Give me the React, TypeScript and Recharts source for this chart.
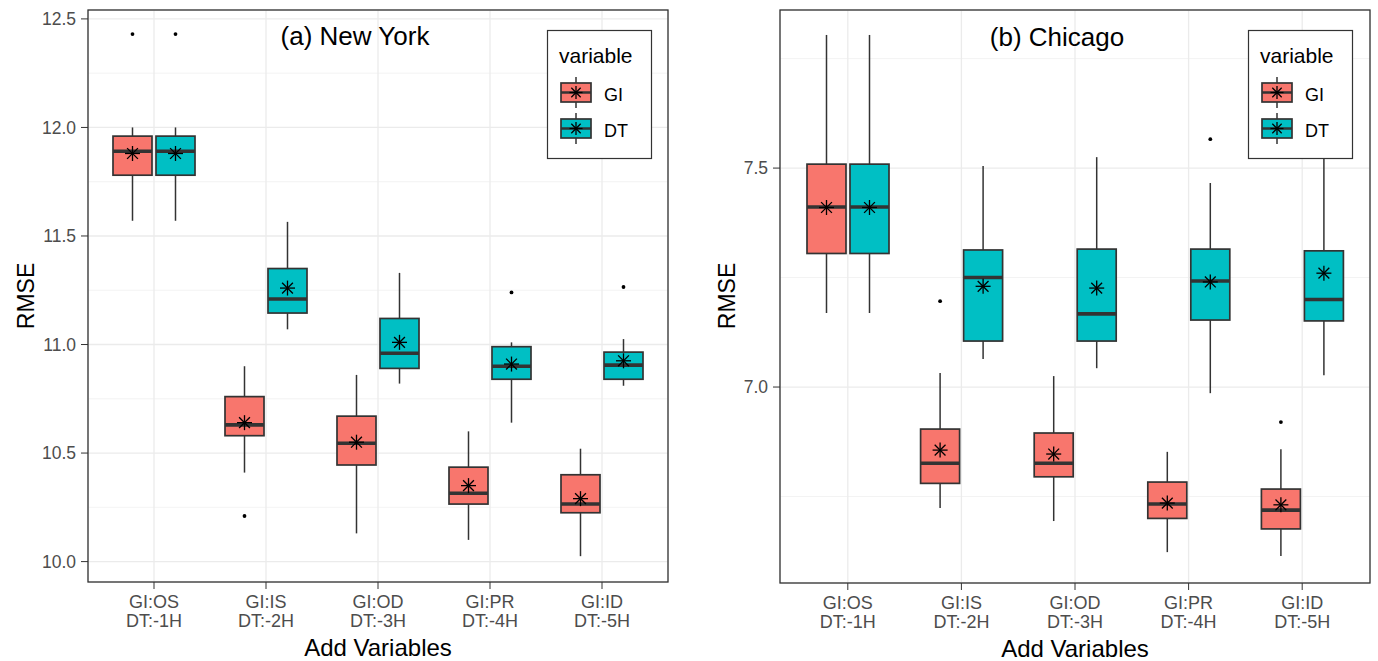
import React from 'react';
import { Bar, CartesianGrid, ComposedChart, XAxis, YAxis } from 'recharts';

const FONT = '"Liberation Sans", Arial, sans-serif';
const GI_COLOR = '#F8766D';
const DT_COLOR = '#00BFC4';
const INK = '#333333';

const giVars = ['GI:OS', 'GI:IS', 'GI:OD', 'GI:PR', 'GI:ID'];
const dtLags = ['DT:-1H', 'DT:-2H', 'DT:-3H', 'DT:-4H', 'DT:-5H'];

// each row: [lower whisker, Q1, median, Q3, upper whisker, mean]
const nyGI = [
  [11.57, 11.78, 11.89, 11.96, 12.0, 11.88],
  [10.41, 10.58, 10.63, 10.76, 10.9, 10.64],
  [10.13, 10.445, 10.545, 10.67, 10.86, 10.55],
  [10.1, 10.265, 10.315, 10.435, 10.6, 10.35],
  [10.025, 10.225, 10.265, 10.4, 10.52, 10.29],
];
const nyDT = [
  [11.57, 11.78, 11.89, 11.96, 12.0, 11.88],
  [11.07, 11.145, 11.21, 11.35, 11.565, 11.26],
  [10.82, 10.89, 10.96, 11.12, 11.33, 11.01],
  [10.64, 10.84, 10.9, 10.99, 11.01, 10.91],
  [10.81, 10.84, 10.905, 10.965, 11.025, 10.925],
];
const nyGIOut = [[12.43], [10.21], [], [], []];
const nyDTOut = [[12.43], [], [], [11.24], [11.265]];

const chGI = [
  [7.169, 7.305, 7.411, 7.509, 7.804, 7.41],
  [6.724, 6.78, 6.826, 6.904, 7.032, 6.856],
  [6.694, 6.795, 6.826, 6.895, 7.025, 6.847],
  [6.623, 6.7, 6.733, 6.783, 6.852, 6.735],
  [6.614, 6.676, 6.719, 6.767, 6.858, 6.731],
];
const chDT = [
  [7.169, 7.305, 7.411, 7.509, 7.804, 7.41],
  [7.064, 7.105, 7.25, 7.313, 7.505, 7.23],
  [7.043, 7.105, 7.167, 7.315, 7.525, 7.226],
  [6.986, 7.153, 7.242, 7.315, 7.466, 7.24],
  [7.027, 7.151, 7.2, 7.311, 7.6, 7.26],
];
const chGIOut = [[], [7.196], [], [], [6.92]];
const chDTOut = [[], [], [], [7.566], []];

const nyTicks = [10, 10.5, 11, 11.5, 12, 12.5];
const nyMinor = [10.25, 10.75, 11.25, 11.75, 12.25];
const chTicks = [7.0, 7.5];
const chMinor = [6.75, 7.25, 7.75];

const Star = ({ cx, cy, r }: { cx: number; cy: number; r: number }) => {
  const d = r * 0.72;
  return (
    <g stroke="#000" strokeWidth={1.3}>
      <line x1={cx} y1={cy - r} x2={cx} y2={cy + r} />
      <line x1={cx - r} y1={cy} x2={cx + r} y2={cy} />
      <line x1={cx - d} y1={cy - d} x2={cx + d} y2={cy + d} />
      <line x1={cx - d} y1={cy + d} x2={cx + d} y2={cy - d} />
    </g>
  );
};

const boxShape = (stats: number[][], outs: number[][], fill: string) => (p: any) => {
  const s = stats[p.index];
  const [lo, q1, med, q3, hi, mean] = s;
  const top = Math.min(p.y, p.y + p.height);
  const bot = Math.max(p.y, p.y + p.height);
  const py = (v: number) => bot - ((v - lo) / (hi - lo)) * (bot - top);
  const cx = p.x + p.width / 2;
  return (
    <g>
      <line x1={cx} x2={cx} y1={py(hi)} y2={py(q3)} stroke={INK} strokeWidth={1.5} />
      <line x1={cx} x2={cx} y1={py(q1)} y2={py(lo)} stroke={INK} strokeWidth={1.5} />
      <rect x={p.x} y={py(q3)} width={p.width} height={py(q1) - py(q3)} fill={fill} stroke={INK} strokeWidth={1.7} />
      <line x1={p.x} x2={p.x + p.width} y1={py(med)} y2={py(med)} stroke={INK} strokeWidth={3.6} />
      {outs[p.index].map((o, k) => (
        <circle key={k} cx={cx} cy={py(o)} r={1.9} fill="#000" />
      ))}
      <Star cx={cx} cy={py(mean)} r={7.5} />
    </g>
  );
};

const CatTick = (props: any) => {
  const { x, y, payload } = props;
  const [a, b] = String(payload.value).split('\n');
  return (
    <text x={x} y={y} textAnchor="middle" fill="#4D4D4D" fontSize={18} fontFamily={FONT}>
      <tspan x={x} dy={17}>{a}</tspan>
      <tspan x={x} dy={19}>{b}</tspan>
    </text>
  );
};

const LegendKey = ({ x, y, fill }: { x: number; y: number; fill: string }) => (
  <g>
    <line x1={x + 15} x2={x + 15} y1={y - 6} y2={y + 25} stroke={INK} strokeWidth={1.5} />
    <rect x={x} y={y} width={30} height={19} fill={fill} stroke={INK} strokeWidth={1.7} />
    <line x1={x} x2={x + 30} y1={y + 9.5} y2={y + 9.5} stroke={INK} strokeWidth={2.5} />
    <Star cx={x + 15} cy={y + 9.5} r={6.5} />
  </g>
);

type PanelProps = {
  left: number;
  width: number;
  axisWidth: number;
  marginRight: number;
  xHeight: number;
  domain: [number, number];
  ticks: number[];
  minor: number[];
  gi: number[][];
  dt: number[][];
  giOut: number[][];
  dtOut: number[][];
  pad: number;
};

const Panel = (props: PanelProps) => {
  const rows = giVars.map((g, i) => ({
    cat: g + '\n' + dtLags[i],
    gi: [props.gi[i][0], props.gi[i][4]],
    dt: [props.dt[i][0], props.dt[i][4]],
  }));
  return (
    <div style={{ position: 'absolute', left: props.left, top: 0 }}>
      <ComposedChart
        width={props.width}
        height={661}
        data={rows}
        margin={{ top: 10, right: props.marginRight, bottom: 0, left: 0 }}
        barSize={39}
        barGap={4}
      >
        <CartesianGrid yAxisId="minor" vertical={false} stroke="#F2F2F2" strokeWidth={0.9} />
        <CartesianGrid yAxisId="main" stroke="#EBEBEB" strokeWidth={1.3} />
        <XAxis
          dataKey="cat"
          height={props.xHeight}
          padding={{ left: props.pad, right: props.pad }}
          interval={0}
          tick={<CatTick />}
          tickLine={{ stroke: INK }}
          tickSize={7}
          tickMargin={2}
          axisLine={false}
        />
        <YAxis
          yAxisId="main"
          type="number"
          width={props.axisWidth}
          domain={props.domain}
          ticks={props.ticks}
          allowDataOverflow
          tickFormatter={(v: number) => v.toFixed(1)}
          tick={{ fill: '#4D4D4D', fontSize: 17.5, fontFamily: FONT }}
          tickLine={{ stroke: INK }}
          tickSize={7}
          tickMargin={5}
          axisLine={false}
        />
        <YAxis yAxisId="minor" type="number" hide domain={props.domain} ticks={props.minor} allowDataOverflow />
        <Bar yAxisId="main" dataKey="gi" isAnimationActive={false} shape={boxShape(props.gi, props.giOut, GI_COLOR)} />
        <Bar yAxisId="main" dataKey="dt" isAnimationActive={false} shape={boxShape(props.dt, props.dtOut, DT_COLOR)} />
      </ComposedChart>
    </div>
  );
};

const Legend2 = ({ x, y }: { x: number; y: number }) => (
  <g transform={`translate(${x},${y})`}>
    <rect x={0.5} y={0.5} width={104} height={128} fill="#fff" stroke={INK} strokeWidth={1.2} />
    <text x={12} y={33} fontSize={21} fontFamily={FONT} fill="#000">variable</text>
    <LegendKey x={14} y={53} fill={GI_COLOR} />
    <text x={57} y={71} fontSize={18} fontFamily={FONT} fill="#000">GI</text>
    <LegendKey x={14} y={89} fill={DT_COLOR} />
    <text x={57} y={107} fontSize={18} fontFamily={FONT} fill="#000">DT</text>
  </g>
);

export default function App() {
  return (
    <div style={{ position: 'absolute', left: 0, top: 0, width: 1378, height: 661, background: '#fff', fontFamily: FONT }}>
      <Panel
        left={0}
        width={690}
        axisWidth={88}
        marginRight={22}
        xHeight={79}
        domain={[9.906, 12.541]}
        ticks={nyTicks}
        minor={nyMinor}
        gi={nyGI}
        dt={nyDT}
        giOut={nyGIOut}
        dtOut={nyDTOut}
        pad={10}
      />
      <Panel
        left={690}
        width={688}
        axisWidth={90}
        marginRight={8}
        xHeight={78}
        domain={[6.5525, 7.861]}
        ticks={chTicks}
        minor={chMinor}
        gi={chGI}
        dt={chDT}
        giOut={chGIOut}
        dtOut={chDTOut}
        pad={11}
      />
      <svg width={1378} height={661} style={{ position: 'absolute', left: 0, top: 0, pointerEvents: 'none' }}>
        <rect x={88} y={10} width={580} height={572} fill="none" stroke={INK} strokeWidth={1.3} />
        <rect x={780} y={10} width={590} height={573} fill="none" stroke={INK} strokeWidth={1.3} />
        <text x={355} y={45} textAnchor="middle" fontSize={26} fontFamily={FONT} fill="#000">(a) New York</text>
        <text x={1057} y={46} textAnchor="middle" fontSize={26} fontFamily={FONT} fill="#000">(b) Chicago</text>
        <Legend2 x={547} y={30} />
        <Legend2 x={1248} y={30} />
        <text transform="rotate(-90)" x={-296} y={34} textAnchor="middle" fontSize={23} fontFamily={FONT} fill="#000">RMSE</text>
        <text transform="rotate(-90)" x={-296} y={735} textAnchor="middle" fontSize={23} fontFamily={FONT} fill="#000">RMSE</text>
        <text x={378} y={656} textAnchor="middle" fontSize={24} fontFamily={FONT} fill="#000">Add Variables</text>
        <text x={1075} y={657} textAnchor="middle" fontSize={24} fontFamily={FONT} fill="#000">Add Variables</text>
      </svg>
    </div>
  );
}
